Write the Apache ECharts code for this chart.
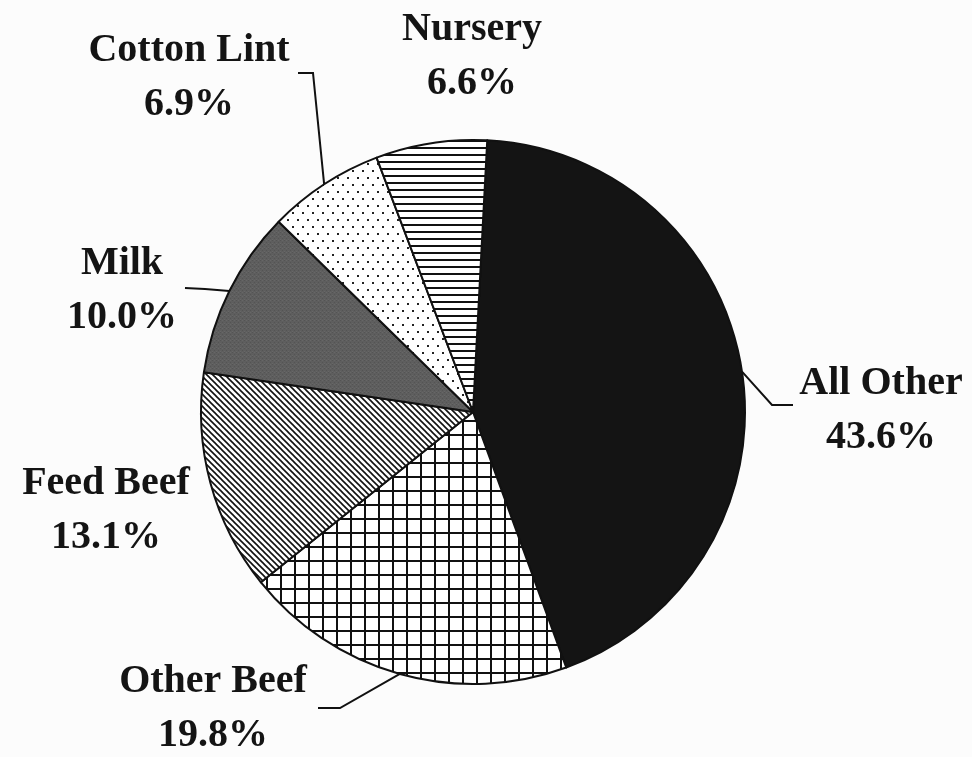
<!DOCTYPE html>
<html>
<head>
<meta charset="utf-8">
<script src="https://cdn.jsdelivr.net/npm/echarts@6/dist/echarts.min.js"></script>
<style>
html,body{margin:0;padding:0;background:#fcfcfc;}
#chart{width:972px;height:757px;}
</style>
</head>
<body>
<div id="chart"></div>
<script>
// ---- data ----
const categories = ['All Other', 'Other Beef', 'Feed Beef', 'Milk', 'Cotton Lint', 'Nursery'];
const shares = [43.6, 19.8, 13.1, 10.0, 6.9, 6.6];

// ---- label placement (layout only) ----
const labelAnchors = [
  { x: 881, y: 411, line: [[772, 405], [793, 405]] },
  { x: 213, y: 709, line: [[340, 708], [318, 708]] },
  { x: 106, y: 511, line: null },
  { x: 122, y: 291, line: [[205, 289], [185, 288]] },
  { x: 189, y: 78,  line: [[313, 73], [298, 73]] },
  { x: 472, y: 57,  line: null }
];

// ---- pattern fills ----
function makePattern(w, h, draw) {
  const c = document.createElement('canvas');
  c.width = w; c.height = h;
  const g = c.getContext('2d');
  draw(g, w, h);
  return { image: c, repeat: 'repeat' };
}
const fills = [
  '#141414',
  makePattern(14, 14, (g, w, h) => {           // grid
    g.fillStyle = '#ffffff'; g.fillRect(0, 0, w, h);
    g.fillStyle = '#111111';
    g.fillRect(0, 0, 2, h);
    g.fillRect(0, 0, w, 2);
  }),
  makePattern(6, 6, (g, w, h) => {             // diagonal "\" lines
    g.fillStyle = '#ffffff'; g.fillRect(0, 0, w, h);
    g.strokeStyle = '#111111'; g.lineWidth = 1.6;
    for (let k = -1; k <= 1; k++) {
      g.beginPath();
      g.moveTo(k * w - 1, -1);
      g.lineTo(k * w + w + 1, h + 1);
      g.stroke();
    }
  }),
  makePattern(4, 4, (g, w, h) => {             // dark grey
    g.fillStyle = '#5e5e5e'; g.fillRect(0, 0, w, h);
    g.fillStyle = '#545454'; g.fillRect(0, 0, 1, 1); g.fillRect(2, 2, 1, 1);
    g.fillStyle = '#676767'; g.fillRect(2, 0, 1, 1); g.fillRect(0, 3, 1, 1);
  }),
  makePattern(10, 14, (g, w, h) => {           // dots
    g.fillStyle = '#ffffff'; g.fillRect(0, 0, w, h);
    g.fillStyle = '#222222';
    g.fillRect(2, 2, 2, 2);
    g.fillRect(7, 9, 2, 2);
  }),
  makePattern(8, 7, (g, w, h) => {             // horizontal lines
    g.fillStyle = '#ffffff'; g.fillRect(0, 0, w, h);
    g.fillStyle = '#111111';
    g.fillRect(0, 0, w, 2);
  })
];

const chart = echarts.init(document.getElementById('chart'), null, { renderer: 'canvas' });

const seriesData = categories.map((name, i) => ({
  name: name,
  value: shares[i],
  itemStyle: { color: fills[i] },
  labelLine: { show: !!labelAnchors[i].line }
}));

chart.setOption({
  animation: false,
  backgroundColor: '#fcfcfc',
  series: [{
    type: 'pie',
    center: [473, 412],
    radius: [0, 272],
    startAngle: 87,
    clockwise: true,
    avoidLabelOverlap: false,
    data: seriesData,
    itemStyle: { borderColor: '#111111', borderWidth: 2 },
    emphasis: { disabled: true },
    label: {
      show: true,
      position: 'outside',
      fontFamily: 'Liberation Serif',
      fontWeight: 'bold',
      fontSize: 40,
      lineHeight: 54,
      color: '#141414',
      align: 'center',
      formatter: p => p.name + '\n' + p.value.toFixed(1) + '%'
    },
    labelLine: {
      show: true,
      lineStyle: { color: '#111111', width: 2 }
    },
    labelLayout: function (params) {
      const a = labelAnchors[params.dataIndex];
      const out = { x: a.x, y: a.y, align: 'center', verticalAlign: 'middle' };
      if (a.line && params.labelLinePoints && params.labelLinePoints[0]) {
        const p0 = params.labelLinePoints[0];
        out.labelLinePoints = [[p0[0], p0[1]]].concat(a.line.map(p => [p[0], p[1]]));
      }
      return out;
    }
  }]
});
</script>
</body>
</html>
